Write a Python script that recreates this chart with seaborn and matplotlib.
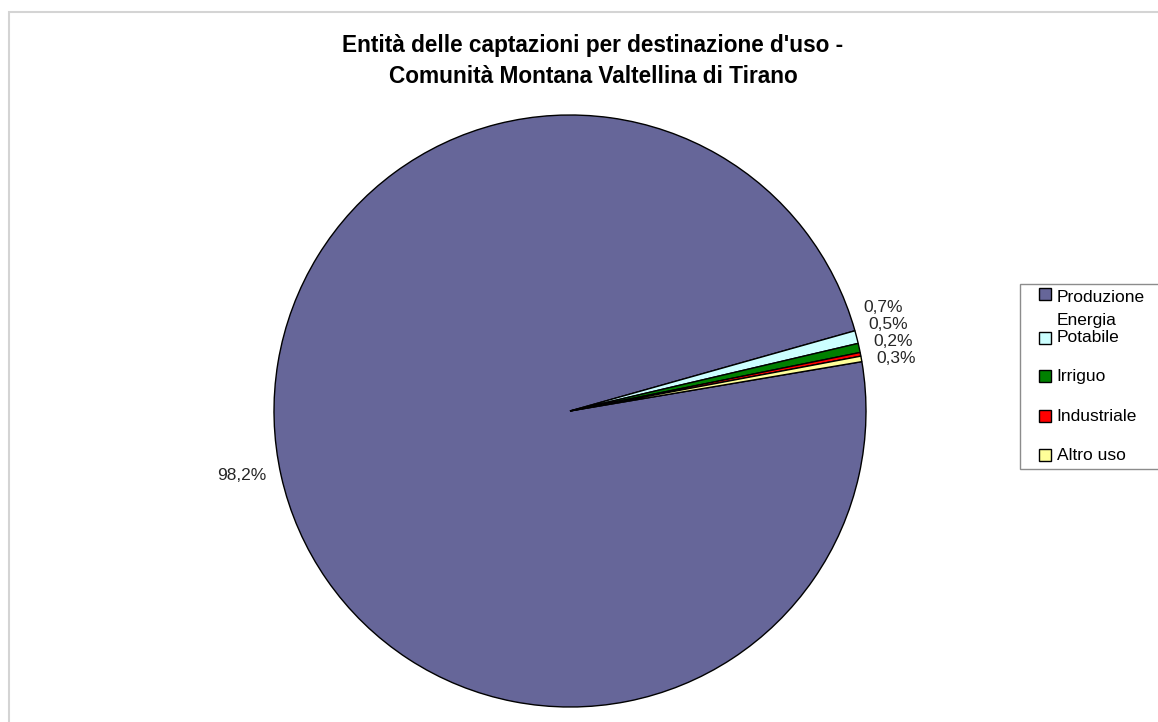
import numpy as np
import matplotlib
matplotlib.use("Agg")
import matplotlib.pyplot as plt
import matplotlib.patches as mpatches
from matplotlib.legend_handler import HandlerPatch
import seaborn as sns

# ---------------- data ----------------
title_lines = ["Entità delle captazioni per destinazione d'uso -",
               "Comunità Montana Valtellina di Tirano"]
categories = ["Produzione\nEnergia", "Potabile", "Irriguo", "Industriale", "Altro uso"]
shares = [98.2, 0.7, 0.5, 0.2, 0.3]
colors = ["#666699", "#CCFFFF", "#008000", "#FF0000", "#FFFF99"]

# ---------------- style ----------------
sns.set_theme(style="white")
plt.rcParams["font.family"] = ["Liberation Sans", "DejaVu Sans"]

W, H = 1158, 722
fig = plt.figure(figsize=(W / 100, H / 100), dpi=100)
fig.patch.set_facecolor("white")

# light frame around the chart area (opens to the right / bottom)
fig.patches.append(mpatches.Rectangle((9 / W, -0.1), 1.2, 1 - 12 / H + 0.1,
                                      transform=fig.transFigure, fill=False,
                                      edgecolor="#d4d4d4", lw=1.5))

ax = fig.add_axes([274 / W, 15 / H, 592 / W, 592 / H])
wedges, _ = ax.pie(shares, colors=colors, startangle=9.6, counterclock=False,
                   wedgeprops=dict(edgecolor="black", linewidth=1.0))
ax.set_xlim(-1, 1)
ax.set_ylim(-1, 1)
ax.set_aspect("equal")

# ---------------- percentage labels ----------------
mids = [np.deg2rad((w.theta1 + w.theta2) / 2) for w in wedges]
ys = [np.sin(m) for m in mids]
sep = 0.058
right = sorted([i for i in range(len(wedges)) if np.cos(mids[i]) > 0], key=lambda i: ys[i])
prev = None
for i in right:
    if prev is not None and ys[i] < prev + sep:
        ys[i] = prev + sep
    prev = ys[i]
r_lab = 1.05
for i, v in enumerate(shares):
    y = ys[i]
    side = np.sign(np.cos(mids[i]))
    x = side * np.sqrt(max(r_lab ** 2 - y ** 2, 0))
    txt = f"{v:.1f}".replace(".", ",") + "%"
    ax.text(x, y, txt, ha="left" if side > 0 else "right", va="center",
            fontsize=12.5, color="#262626", clip_on=False)

# ---------------- title ----------------
fig.text(593 / W, 1 - 61 / H, "\n".join(title_lines), ha="center", va="center",
         fontsize=16.3, fontweight="bold", color="black", linespacing=1.42)

# ---------------- legend ----------------
FS = 12.5
LS = 1.65


def make_square(shift):
    def square(legend, orig_handle, xdescent, ydescent, width, height, fontsize):
        s = height
        return mpatches.Rectangle((width - xdescent - s, -ydescent + shift * fontsize), s, s)
    return square


handles = [mpatches.Patch(facecolor=c, edgecolor="black", lw=1.0) for c in colors]
labels = [lab if i < 2 else "\n" + lab for i, lab in enumerate(categories)]
hmap = {handles[0]: HandlerPatch(patch_func=make_square(0.86)),
        handles[1]: HandlerPatch(patch_func=make_square(-0.115))}
for h in handles[2:]:
    hmap[h] = HandlerPatch(patch_func=make_square(-0.63))
leg = fig.legend(handles, labels, handler_map=hmap, loc="upper left",
                 bbox_to_anchor=(1020 / W, 1 - 284 / H - 0.3, 170 / W, 0.3),
                 mode="expand", borderaxespad=0,
                 fontsize=FS, frameon=True, fancybox=False, shadow=False,
                 framealpha=1, edgecolor="#8c8c8c", borderpad=0.35,
                 labelspacing=0.1, handlelength=1.42, handleheight=0.7,
                 handletextpad=0.35)
leg.get_frame().set_linewidth(1.0)
for t in leg.get_texts():
    t.set_linespacing(LS)
    t.set_color("black")

fig.savefig("out.png", dpi=100, facecolor="white")
